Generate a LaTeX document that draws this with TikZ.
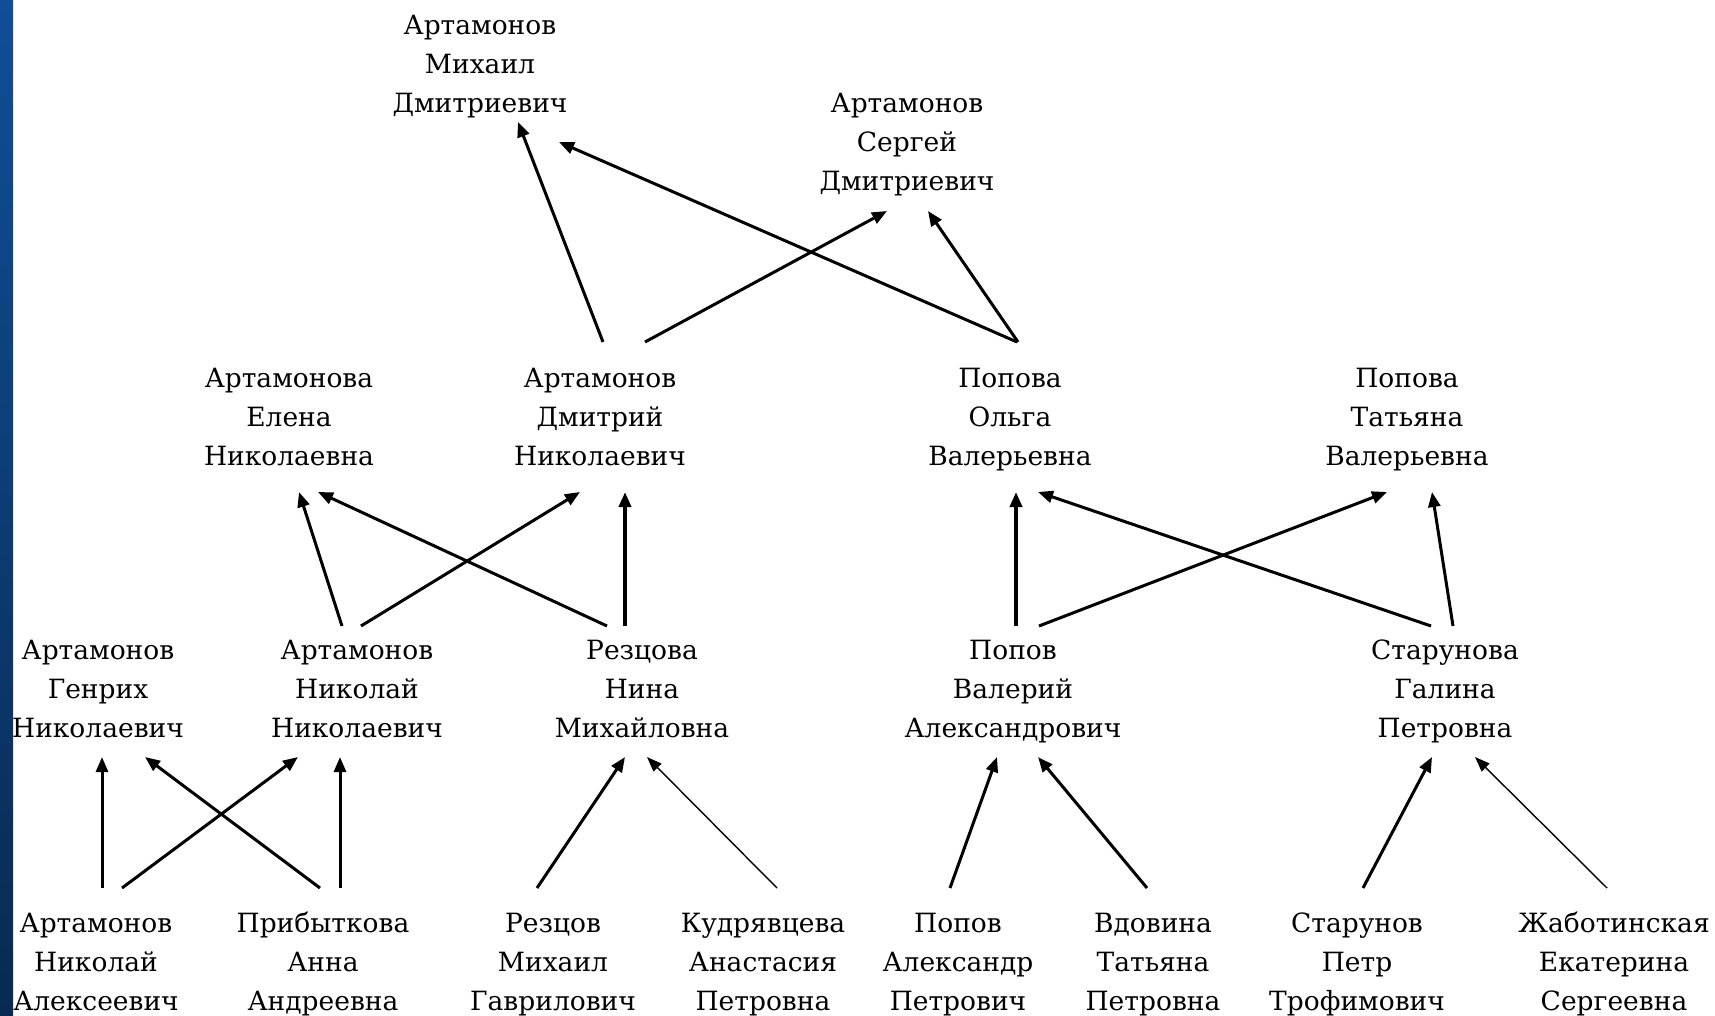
\documentclass[tikz,border=0pt]{standalone}
\usepackage{fontspec}
\setmainfont{DejaVu Serif}
\usetikzlibrary{arrows.meta,calc}
\begin{document}
\begin{tikzpicture}[x=1pt,y=-1pt,
  person/.style={align=center, inner sep=0pt, font=\fontsize{26.5}{39}\selectfont},
  rel/.style={-{Triangle[length=15pt,width=12pt]}, line width=3pt},
  relbold/.style={-{Triangle[length=15pt,width=12pt]}, line width=3.8pt},
  relthin/.style={-{Triangle[length=15pt,width=11pt]}, line width=1.4pt}]
\useasboundingbox (0,0) rectangle (1715,1016);
\fill[white] (0,0) rectangle (1715,1016);
\shade[top color={rgb,255:red,16;green,78;blue,152}, bottom color={rgb,255:red,8;green,42;blue,80}] (0,0) rectangle (13,1016);

% generation 1
\node[person] (amd) at (480,66)  {\strut Артамонов\\Михаил\\Дмитриевич\strut};
\node[person] (asd) at (907,144) {\strut Артамонов\\Сергей\\Дмитриевич\strut};
% generation 2
\node[person] (aen) at (289,419)  {\strut Артамонова\\Елена\\Николаевна\strut};
\node[person] (adn) at (600,419)  {\strut Артамонов\\Дмитрий\\Николаевич\strut};
\node[person] (pov) at (1010,419) {\strut Попова\\Ольга\\Валерьевна\strut};
\node[person] (ptv) at (1407,419) {\strut Попова\\Татьяна\\Валерьевна\strut};
% generation 3
\node[person] (agn) at (98,691)   {\strut Артамонов\\Генрих\\Николаевич\strut};
\node[person] (ann) at (357,691)  {\strut Артамонов\\Николай\\Николаевич\strut};
\node[person] (rnm) at (642,691)  {\strut Резцова\\Нина\\Михайловна\strut};
\node[person] (pva) at (1013,691) {\strut Попов\\Валерий\\Александрович\strut};
\node[person] (sgp) at (1445,691) {\strut Старунова\\Галина\\Петровна\strut};
% generation 4
\node[person] (ana)  at (96,964)   {\strut Артамонов\\Николай\\Алексеевич\strut};
\node[person] (paa)  at (323,964)  {\strut Прибыткова\\Анна\\Андреевна\strut};
\node[person] (rmg)  at (553,964)  {\strut Резцов\\Михаил\\Гаврилович\strut};
\node[person] (kap)  at (763,964)  {\strut Кудрявцева\\Анастасия\\Петровна\strut};
\node[person] (pap)  at (958,964)  {\strut Попов\\Александр\\Петрович\strut};
\node[person] (vtp)  at (1153,964) {\strut Вдовина\\Татьяна\\Петровна\strut};
\node[person] (spt)  at (1357,964) {\strut Старунов\\Петр\\Трофимович\strut};
\node[person] (zhes) at (1614,964) {\strut Жаботинская\\Екатерина\\Сергеевна\strut};

% generation 4 -> 3
\draw[rel] ($(ana)+(6,-76)$) -- ($(agn)+(4,66)$);
\draw[rel] ($(ana)+(26,-76)$) -- ($(ann)+(-59,66)$);
\draw[rel] ($(paa)+(-3,-76)$) -- ($(agn)+(47,66)$);
\draw[rel] ($(paa)+(17,-76)$) -- ($(ann)+(-17,66)$);
\draw[rel] ($(rmg)+(-16,-76)$) -- ($(rnm)+(-17,66)$);
\draw[relthin] ($(kap)+(14,-76)$) -- ($(rnm)+(5,66)$);
\draw[rel] ($(pap)+(-8,-76)$) -- ($(pva)+(-16,66)$);
\draw[rel] ($(vtp)+(-6,-76)$) -- ($(pva)+(25,66)$);
\draw[rel] ($(spt)+(6,-76)$) -- ($(sgp)+(-13,66)$);
\draw[relthin] ($(zhes)+(-7,-76)$) -- ($(sgp)+(30,66)$);

% generation 3 -> 2
\draw[rel] ($(ann)+(-15,-65)$) -- ($(aen)+(10,73)$);
\draw[rel] ($(ann)+(4,-65)$) -- ($(adn)+(-20,73)$);
\draw[rel] ($(rnm)+(-35,-65)$) -- ($(aen)+(29,73)$);
\draw[relbold] ($(rnm)+(-17,-65)$) -- ($(adn)+(25,73)$);
\draw[relbold] ($(pva)+(3,-65)$) -- ($(pov)+(6,73)$);
\draw[rel] ($(pva)+(26,-65)$) -- ($(ptv)+(-20,73)$);
\draw[rel] ($(sgp)+(-14,-65)$) -- ($(pov)+(28,73)$);
\draw[rel] ($(sgp)+(8,-65)$) -- ($(ptv)+(25,73)$);

% generation 2 -> 1
\draw[rel] ($(adn)+(3,-77)$) -- ($(amd)+(38,56)$);
\draw[rel] ($(adn)+(45,-77)$) -- ($(asd)+(-20,67)$);
\draw[rel] ($(pov)+(7,-77)$) -- ($(amd)+(79,76)$);
\draw[rel] ($(pov)+(8,-77)$) -- ($(asd)+(21,67)$);
\end{tikzpicture}
\end{document}
